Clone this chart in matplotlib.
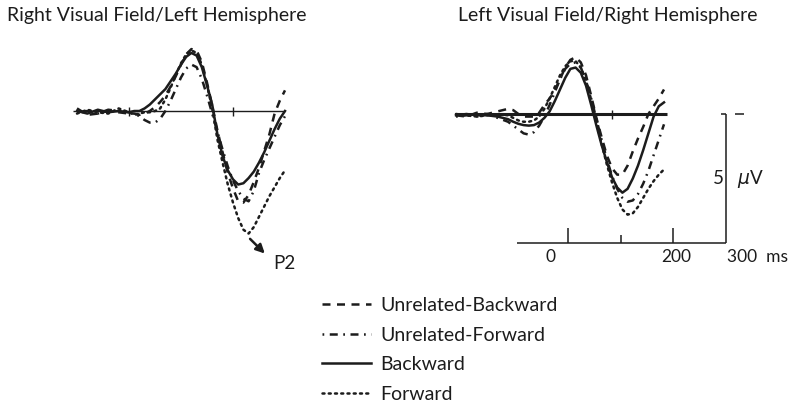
import matplotlib
matplotlib.use("Agg")
import matplotlib.pyplot as plt

plt.rcParams['font.family'] = ['Lato', 'DejaVu Sans']

# ---- data (ms, microvolts; negative plotted up) ----
t_ms = [-100, -80, -60, -40, -20, 0, 10, 20, 30, 40, 50, 60, 70, 80, 90, 100,
        110, 120, 130, 140, 150, 160, 170, 180, 190, 200, 210, 220, 230, 240,
        250, 260, 270, 280, 290, 300]

# Right visual field / left hemisphere
lh_unrel_bwd = [-0.1, 0.15, 0.1, 0.0, 0.05, 0.1, 0.1, 0.15, 0.1, 0.0, -0.15, -0.35,
                -0.6, -0.95, -1.35, -1.8, -2.2, -2.4, -2.35, -1.9, -1.1, -0.2, 0.75,
                1.6, 2.4, 3.0, 3.5, 3.55, 3.25, 2.75, 2.2, 1.55, 0.9, 0.1, -0.4, -0.8]
lh_unrel_fwd = [0.05, 0.0, 0.1, -0.05, 0.0, 0.05, 0.1, 0.2, 0.35, 0.45, 0.45, 0.3,
                0.0, -0.4, -0.85, -1.3, -1.65, -1.8, -1.7, -1.25, -0.6, 0.1, 0.8,
                1.5, 2.15, 2.7, 3.1, 3.4, 3.5, 3.1, 2.4, 1.9, 1.45, 1.0, 0.55, 0.2]
lh_bwd = [0.0, 0.1, -0.05, 0.05, 0.0, 0.05, 0.0, 0.0, -0.1, -0.25, -0.45, -0.65,
          -0.85, -1.15, -1.45, -1.8, -2.1, -2.25, -2.15, -1.7, -1.0, -0.25, 0.9,
          1.75, 2.3, 2.65, 2.85, 2.8, 2.6, 2.35, 2.0, 1.6, 1.15, 0.7, 0.3, 0.0]
lh_fwd = [0.1, -0.05, 0.05, 0.1, -0.1, 0.05, 0.15, 0.1, 0.05, 0.05, 0.0, -0.1,
          -0.45, -0.9, -1.4, -1.85, -2.2, -2.35, -2.25, -1.8, -1.0, -0.1, 1.1,
          2.0, 2.85, 3.55, 4.15, 4.6, 4.75, 4.5, 4.1, 3.7, 3.3, 2.95, 2.6, 2.3]

# Left visual field / right hemisphere
rh_unrel_bwd = [0.05, 0.1, -0.05, 0.0, -0.1, -0.2, -0.15, 0.0, 0.1, 0.1, 0.1, -0.05,
                -0.35, -0.6, -0.9, -1.35, -1.8, -2.1, -2.2, -2.0, -1.5, -0.7, 0.15,
                0.9, 1.6, 2.1, 2.35, 2.35, 2.0, 1.45, 0.95, 0.5, 0.0, -0.3, -0.6, -0.95]
rh_unrel_fwd = [0.1, 0.05, 0.1, 0.0, 0.15, 0.3, 0.45, 0.6, 0.75, 0.8, 0.7, 0.45,
                0.1, -0.35, -0.85, -1.35, -1.75, -1.95, -2.0, -1.8, -1.3, -0.6, 0.2,
                1.0, 1.75, 2.4, 2.9, 3.25, 3.4, 3.35, 3.1, 2.7, 2.2, 1.6, 1.0, 0.4]
rh_bwd = [0.05, 0.0, 0.05, 0.05, 0.1, 0.2, 0.3, 0.38, 0.43, 0.45, 0.43, 0.33,
          0.15, -0.1, -0.5, -0.95, -1.4, -1.75, -1.8, -1.6, -1.1, -0.35, 0.45,
          1.2, 1.85, 2.45, 2.85, 3.05, 2.9, 2.5, 2.0, 1.4, 0.75, 0.1, -0.3, -0.45]
rh_fwd = [0.0, 0.05, 0.1, 0.05, 0.0, 0.05, 0.15, 0.25, 0.3, 0.3, 0.25, 0.1,
          -0.2, -0.6, -1.05, -1.5, -1.85, -2.05, -2.05, -1.8, -1.3, -0.55, 0.3,
          1.15, 1.95, 2.65, 3.25, 3.7, 3.9, 3.85, 3.6, 3.25, 2.9, 2.6, 2.35, 2.15]

labels = ['Unrelated-Backward', 'Unrelated-Forward', 'Backward', 'Forward']
styles = [(0, (3.2, 2.6)), (0, (0.7, 2.2, 3.2, 2.2)), '-', (0, (0.8, 1.7))]
titles = ['Right Visual Field/Left Hemisphere', 'Left Visual Field/Right Hemisphere']

INK = '#1c1c1c'
W, H = 800, 407
PX_MS = 0.52     # pixels per ms
PX_UV = 25.8     # pixels per microvolt

fig = plt.figure(figsize=(W / 100, H / 100), dpi=100)


def panel(left, right, top, bottom, zero_x, base_y):
    ax = fig.add_axes([left / W, 1 - bottom / H, (right - left) / W, (bottom - top) / H])
    ax.set_xlim((left - zero_x) / PX_MS, (right - zero_x) / PX_MS)
    ax.set_ylim((bottom - base_y) / PX_UV, (top - base_y) / PX_UV)
    ax.axis('off')
    return ax


axL = panel(60, 330, 30, 290, 129, 111)
axR = panel(430, 800, 30, 290, 508, 114)

handles = []
for ax, series in [(axL, [lh_unrel_bwd, lh_unrel_fwd, lh_bwd, lh_fwd]),
                   (axR, [rh_unrel_bwd, rh_unrel_fwd, rh_bwd, rh_fwd])]:
    hs = []
    for y, ls, lab in zip(series, styles, labels):
        l, = ax.plot(t_ms, y, color=INK, lw=1.8, linestyle=ls, label=lab,
                     dash_capstyle='round' if lab == 'Forward' else 'butt')
        hs.append(l)
    handles = hs

# baselines and ticks
axL.hlines(0, -108, 300, color=INK, lw=1.0)
axL.vlines([0, 200], -0.15, 0.2, color=INK, lw=1.0)
axR.hlines(0, -102, 306, color=INK, lw=2.2)
axR.vlines([200], -0.15, 0.2, color=INK, lw=1.0)

# P2 marker
axL.annotate('', xy=(265, 5.6), xytext=(229, 4.88),
             arrowprops=dict(arrowstyle='-|>', color=INK, lw=1.8, mutation_scale=13))
axL.text(277, 5.9, 'P2', fontsize=13.5, color=INK, ha='left', va='center')

# calibration bar
axR.hlines(5.0, 17, 419, color=INK, lw=1.1)
axR.vlines([116, 318], 4.4, 5.0, color=INK, lw=1.1)
axR.vlines([217], 4.7, 5.0, color=INK, lw=1.1)
axR.vlines(419, 0, 5.0, color=INK, lw=1.1)
axR.hlines(0, 410, 419, color=INK, lw=1.1)
axR.hlines(0, 436, 453, color=INK, lw=1.1)
axR.text(81, 5.55, '0', fontsize=12.5, ha='center', va='center', color=INK)
axR.text(323, 5.55, '200', fontsize=12.5, ha='center', va='center', color=INK)
axR.text(421, 5.55, '300  ms', fontsize=12.5, ha='left', va='center', color=INK)
axR.text(404, 2.5, '5', fontsize=13.5, ha='center', va='center', color=INK)
axR.text(467, 2.5, r'$\mu$V', fontsize=13.5, ha='center', va='center', color=INK)

# titles
fig.text(7 / W, 1 - 15 / H, titles[0], fontsize=14, ha='left', va='center', color=INK)
fig.text(458 / W, 1 - 15 / H, titles[1], fontsize=14, ha='left', va='center', color=INK)

fig.legend(handles, labels, loc='upper left', bbox_to_anchor=(322 / W, 1 - 297 / H),
           frameon=False, fontsize=14, handlelength=2.5, handletextpad=0.5,
           labelspacing=0.65, borderpad=0, borderaxespad=0, labelcolor=INK)

fig.savefig('out.png', dpi=100)
